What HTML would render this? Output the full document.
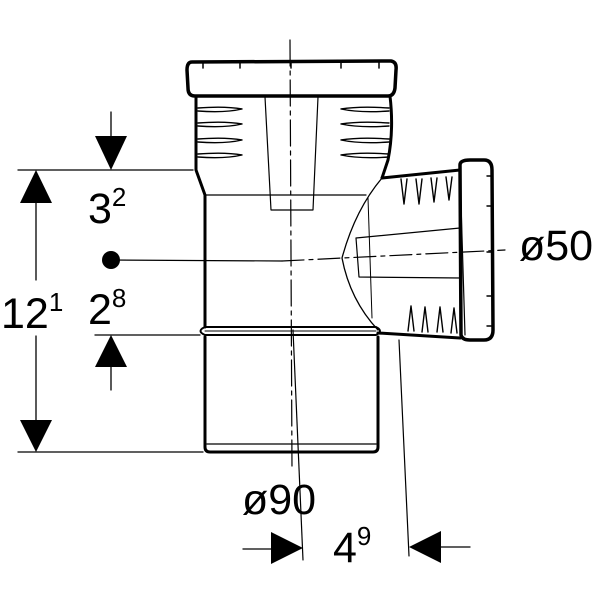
<!DOCTYPE html>
<html><head><style>
html,body{margin:0;padding:0;background:#fff;width:600px;height:600px;overflow:hidden}
text{font-family:"Liberation Sans",sans-serif;fill:#000}
</style></head><body>
<svg width="600" height="600" viewBox="0 0 600 600" xmlns="http://www.w3.org/2000/svg">
<g fill="none" stroke="#000" stroke-linecap="round" stroke-linejoin="round">
<path d="M205,337 L205,447 Q205,452 210,452 L373,452 Q378,452 378,447 L378,337" stroke-width="3"/>
<line x1="207" y1="444" x2="376" y2="444" stroke-width="1.2"/>
<path d="M205,327 Q196,331 205,335 L376,335 Q384,331 376,327 Z" stroke-width="2"/>
<line x1="205" y1="331" x2="376" y2="331" stroke-width="1"/>
<path d="M205,327 L205,195 L196,170 L196,96" stroke-width="3"/>
<line x1="205" y1="195" x2="366" y2="195" stroke-width="1.2"/>
<path d="M390,96 Q394,130 388,160 L382,178" stroke-width="3"/>
<path d="M192,62 L391,61 Q397,62 396,70 L395,88 Q394,96 388,96 L195,96 Q188,96 188,88 L187,70 Q187,62 192,62 Z" stroke-width="3.5"/>
<g stroke-width="1.5">
<path d="M203,62 v6 M240,62 v6 M291,62 v6 M341,62 v6 M379,62 v6"/>
</g>
<path d="M265,97 L271,210 L313,210 L318,97" stroke-width="1.2"/>
<g stroke-width="1.4">
<path d="M198,108 Q225,106 242,109 Q225,113 198,111"/>
<path d="M198,123 Q225,121 242,124 Q225,128 198,126"/>
<path d="M198,139 Q225,137 242,140 Q225,144 198,142"/>
<path d="M198,154 Q225,152 242,155 Q225,159 198,157"/>
<path d="M389,108 Q360,106 341,109 Q360,113 389,111"/>
<path d="M389,123 Q360,121 341,124 Q360,128 389,126"/>
<path d="M389,139 Q360,137 341,140 Q360,144 389,142"/>
<path d="M389,154 Q360,152 341,155 Q360,159 389,157"/>
</g>
<path d="M382,178 Q355,210 342,258 Q350,300 378,330" stroke-width="1.3"/>
<path d="M382,178 L460,170 M378,333 L460,338" stroke-width="3"/>
<line x1="368" y1="198" x2="372" y2="318" stroke-width="1"/>
<path d="M460,165 Q460,160 470,160 L484,160 Q492,160 492,170 L493,330 Q493,340 484,340 L470,340 Q462,340 461,335 Z" stroke-width="3.5"/>
<line x1="460" y1="170" x2="465" y2="335" stroke-width="1.2"/>
<path d="M356,238 L460,228 M356,238 L359,277 L461,278" stroke-width="1.2"/>
<g stroke-width="1.4">
<path d="M401,179 l3,25 l3,-25 M416,179 l3,25 l3,-25 M431,178 l3,24 l3,-24 M446,177 l3,23 l3,-23"/>
<path d="M408,331 l3,-25 l3,25 M422,332 l3,-25 l3,25 M437,332 l3,-25 l3,25 M451,333 l3,-25 l3,25"/>
<path d="M487,176 h5 M487,206 h5 M487,252 h5 M487,296 h5 M487,326 h5"/>
</g>
<path d="M290,40 L292,470" stroke-width="1.2" stroke-dasharray="26,5,4,5"/>
<path d="M293,330 L303,560" stroke-width="1.2"/>
<path d="M399,340 L409,556" stroke-width="1.2"/>
<path d="M111,260 L282,261" stroke-width="1.2"/>
<path d="M282,261 L505,250" stroke-width="1.2" stroke-dasharray="22,5,4,5"/>
<path d="M18,170 H193 M18,452 H203 M36,200 V280 M36,336 V422 M95,335 H200" stroke-width="1.3"/>
<path d="M111,112 V140 M111,365 V390" stroke-width="1.3"/>
<path d="M243,549 H272 M470,547 H440" stroke-width="1.3"/>
</g>
<g fill="#000">
<polygon points="20,203 52,203 36,170"/>
<polygon points="20,420 52,420 36,452"/>
<polygon points="95,136 127,136 111,170"/>
<polygon points="95,367 127,367 111,335"/>
<polygon points="271,532 271,564 303,548"/>
<polygon points="441,531 441,563 409,547"/>
<circle cx="111" cy="260" r="9"/>
</g>
<text x="1" y="328" font-size="43">12<tspan font-size="26" dy="-17">1</tspan></text>
<text x="88" y="223" font-size="43">3<tspan font-size="26" dy="-17">2</tspan></text>
<text x="88" y="324" font-size="43">2<tspan font-size="26" dy="-17">8</tspan></text>
<text x="519" y="260" font-size="43">ø50</text>
<text x="242" y="514" font-size="43">ø90</text>
<text x="333" y="562" font-size="43">4<tspan font-size="26" dy="-17">9</tspan></text>
</svg>
</body></html>
